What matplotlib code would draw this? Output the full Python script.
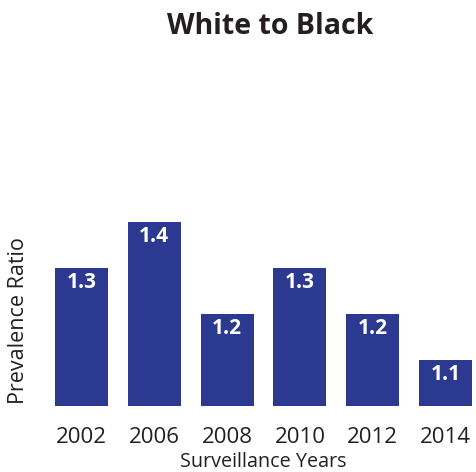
import matplotlib
matplotlib.use("Agg")
import matplotlib.pyplot as plt

## Donnees
annees = ["2002", "2006", "2008", "2010", "2012", "2014"]
ratios = [1.3, 1.4, 1.2, 1.3, 1.2, 1.1]

plt.rcParams['font.family'] = ['Open Sans', 'DejaVu Sans']
couleur_barre = "#2b3990"
couleur_texte = "#231f20"

W, H = 476, 472
fig = plt.figure(figsize=(W/100, H/100), dpi=100)
## axes placees en pixels
gauche, droite, haut, bas = 55, 472, 190, 406
ax = fig.add_axes([gauche/W, 1-bas/H, (droite-gauche)/W, (bas-haut)/H])

x = range(len(annees))
barres = ax.bar(x, [r-1.0 for r in ratios], bottom=1.0, width=0.73, color=couleur_barre)
for xi, r in zip(x, ratios):
    ax.text(xi, r-0.009, "%.1f" % r, ha="center", va="top", color="white",
            fontsize=15, fontweight="bold")

ax.set_xlim(-0.365, 5.365)
ax.set_ylim(1.0, 1.0 + (bas-haut)/460)
ax.set_xticks(list(x))
ax.set_xticklabels(annees, fontsize=16, color=couleur_texte)
ax.tick_params(axis="x", length=0, pad=15)
ax.set_yticks([])
for s in ax.spines.values():
    s.set_visible(False)

fig.text(270/W, 1-27/H, "White to Black", ha="center", va="center",
         fontsize=20.5, fontweight="bold", color=couleur_texte)
fig.text(263/W, 1-462/H, "Surveillance Years", ha="center", va="center",
         fontsize=14.2, color=couleur_texte)
fig.text(19/W, 1-321/H, "Prevalence Ratio", ha="center", va="center",
         rotation=90, fontsize=15.5, color=couleur_texte)

fig.savefig("out.png", dpi=100)
